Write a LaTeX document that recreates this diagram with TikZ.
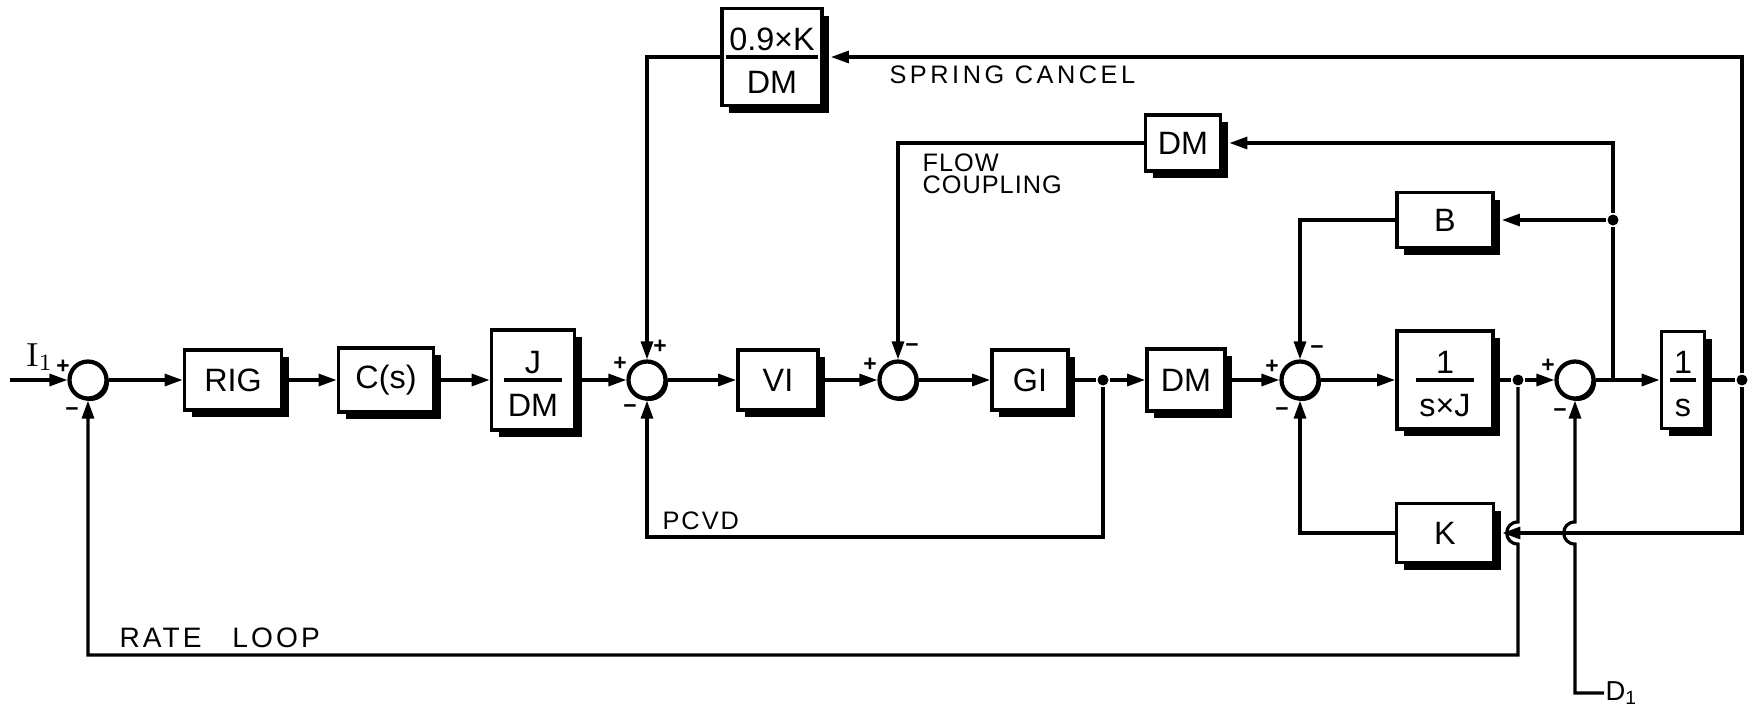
\documentclass[tikz,border=0pt]{standalone}
\usepackage{fontspec}
\setsansfont{Liberation Sans}
\usetikzlibrary{positioning,calc,arrows.meta,shadows}

\setlength{\arrayrulewidth}{0.9pt}
\newcommand{\blockfont}{\sffamily\fontsize{9.2}{8.4}\selectfont}
\newcommand{\lblfont}{\sffamily\fontsize{7.2}{6.3}\selectfont}
\newcommand{\blockfrac}[2]{\begin{tabular}{@{\hspace{1pt}}c@{\hspace{1pt}}}\rule{0pt}{11pt}#1\\[-1pt]\hline\rule{0pt}{10pt}#2\end{tabular}}

\begin{document}
\begin{tikzpicture}[x=0.1mm,y=-0.1mm,line width=0.9pt,>={Triangle[length=1.8mm,width=1.2mm]}]
        \tikzstyle{block}=[draw,line width=1.1pt,fill=white,inner sep=0pt,font=\blockfont,
            drop shadow={shadow xshift=0.7mm,shadow yshift=-0.7mm,fill=black,opacity=1}]
        \tikzstyle{sum}=[draw,circle,line width=1.2pt,fill=white,minimum size=3.7mm,inner sep=0pt,
            drop shadow={shadow xshift=0.25mm,shadow yshift=-0.25mm,fill=black,opacity=1}]
        \tikzstyle{dot}=[circle,fill=black,minimum size=1.1mm,inner sep=0pt]
        \tikzstyle{sign}=[font=\sffamily\bfseries\fontsize{6.5}{7}\selectfont,inner sep=0pt]
        \tikzstyle{annot}=[font=\lblfont,inner sep=0pt,anchor=west]

        \useasboundingbox (0,0) rectangle (1752,712);

        % Forward path
        \coordinate (in) at (10,380);
        \node[sum] (sum1) at (88,380) {};
        \node[block,minimum width=9.7mm,minimum height=6mm] (rig) at (233,380) {RIG};
        \node[block,minimum width=9.5mm,minimum height=6.4mm] (cs) at (386,380) {C(s)};
        \node[block,minimum width=8.3mm,minimum height=10mm] (jdm) at (533,380) {\blockfrac{J}{DM}};
        \node[sum] (sum2) at (647,380) {};
        \node[block,minimum width=8mm,minimum height=6mm] (vi) at (778,380) {VI};
        \node[sum] (sum3) at (898,380) {};
        \node[block,minimum width=7.6mm,minimum height=6mm] (gi) at (1030,380) {GI};
        \node[dot] (j1) at (1103,380) {};
        \node[block,minimum width=7.8mm,minimum height=6.2mm] (dm) at (1186,380) {DM};
        \node[sum] (sum4) at (1300,380) {};
        \node[block,minimum width=9.6mm,minimum height=9.8mm] (sj) at (1445,380) {\blockfrac{1}{s×J}};
        \node[dot] (j2) at (1518,380) {};
        \node[sum] (sum5) at (1575,380) {};
        \coordinate (j3) at (1613,380);
        \node[block,minimum width=4.3mm,minimum height=9.7mm] (intg) at (1683,380) {\blockfrac{1}{s}};
        \node[dot] (j4) at (1742,380) {};

        % Feedback blocks
        \node[block,minimum width=10mm,minimum height=9.7mm] (spring) at (772,57) {\blockfrac{0.9×K}{DM}};
        \node[block,minimum width=7.5mm,minimum height=5.6mm] (flowdm) at (1183,143) {DM};
        \node[block,minimum width=9.6mm,minimum height=5.5mm] (b) at (1445,220) {B};
        \node[block,minimum width=9.7mm,minimum height=5.9mm] (k) at (1445,533) {K};
        \node[dot] (bdot) at (1613,220) {};

        % Connect forward path
        \foreach \a/\b in {in/sum1,sum1/rig,rig/cs,cs/jdm,jdm/sum2,sum2/vi,vi/sum3,sum3/gi,
                           j1/dm,dm/sum4,sum4/sj,j2/sum5,j3/intg}
            \draw[->] (\a) -- (\b);
        \foreach \a/\b in {gi/j1,sj/j2,sum5/j3,intg/j4}
            \draw (\a) -- (\b);

        % Spring cancel and flow coupling
        \draw[->] (j4) |- ($(spring.east)+(7,0)$);
        \draw[->] (spring.west) -| (sum2.north);
        \draw (j3) -- (bdot);
        \draw[->] (bdot) |- ($(flowdm.east)+(7,0)$);
        \draw[->] (flowdm.west) -| (sum3.north);

        % B and K loops
        \draw[->] (bdot) -- ($(b.east)+(7,0)$);
        \draw[->] (b.west) -| (sum4.north);
        \draw[->] (j4) |- ($(k.east)+(7,0)$);
        \draw[->] (k.west) -| (sum4.south);

        % PCVD and rate loop
        \draw[->] (j1) -- ++(0,157) -| (sum2.south);
        \draw[->] (j2) -- ($(j2 |- k)+(0,-11)$)
            .. controls ($(j2 |- k)+(-15,-11)$) and ($(j2 |- k)+(-15,11)$) .. ($(j2 |- k)+(0,11)$)
            -- ($(j2)+(0,275)$) -| (sum1.south);

        % Disturbance
        \node[anchor=west,inner sep=0pt,font=\sffamily\fontsize{7.8}{8}\selectfont] (d1) at (1604,693) {D\textsubscript{1}};
        \draw[->] (d1.west) -| ($(sum5 |- k)+(0,11)$)
            .. controls ($(sum5 |- k)+(-15,11)$) and ($(sum5 |- k)+(-15,-11)$) .. ($(sum5 |- k)+(0,-11)$)
            -- (sum5.south);

        % Signs
        \node[sign] (s1a) at ($(sum1)+(-25,-13)$) {+};
        \node[sign] (s1b) at ($(sum1)+(-16,32)$) {−};
        \node[sign] (s2a) at ($(sum2)+(-27,-16)$) {+};
        \node[sign] (s2b) at ($(sum2)+(13,-33)$) {+};
        \node[sign] (s2c) at ($(sum2)+(-17,29)$) {−};
        \node[sign] (s3a) at ($(sum3)+(-28,-15)$) {+};
        \node[sign] (s3b) at ($(sum3)+(14,-32)$) {−};
        \node[sign] (s4a) at ($(sum4)+(-28,-13)$) {+};
        \node[sign] (s4b) at ($(sum4)+(17,-30)$) {−};
        \node[sign] (s4c) at ($(sum4)+(-18,32)$) {−};
        \node[sign] (s5a) at ($(sum5)+(-27,-14)$) {+};
        \node[sign] (s5b) at ($(sum5)+(-15,33)$) {−};

        % Annotate the loops
        \node[inner sep=0pt,font=\rmfamily\fontsize{9.5}{10}\selectfont] (i1) at (40,357) {I\textsubscript{1}};
        \node[annot] (spr) at (888,75) {\addfontfeature{LetterSpace=14}SPRING CANCEL};
        \node[annot,anchor=north west,align=left] (flow) at (921,152) {\addfontfeature{LetterSpace=4}FLOW\\\addfontfeature{LetterSpace=4}COUPLING};
        \node[annot] (pcvd) at (661,521) {\addfontfeature{LetterSpace=8}PCVD};
        \node[annot,font=\sffamily\fontsize{8}{8}\selectfont] (rate) at (118,638) {\addfontfeature{LetterSpace=11}RATE\hspace{1.09em}LOOP};
\end{tikzpicture}
\end{document}
